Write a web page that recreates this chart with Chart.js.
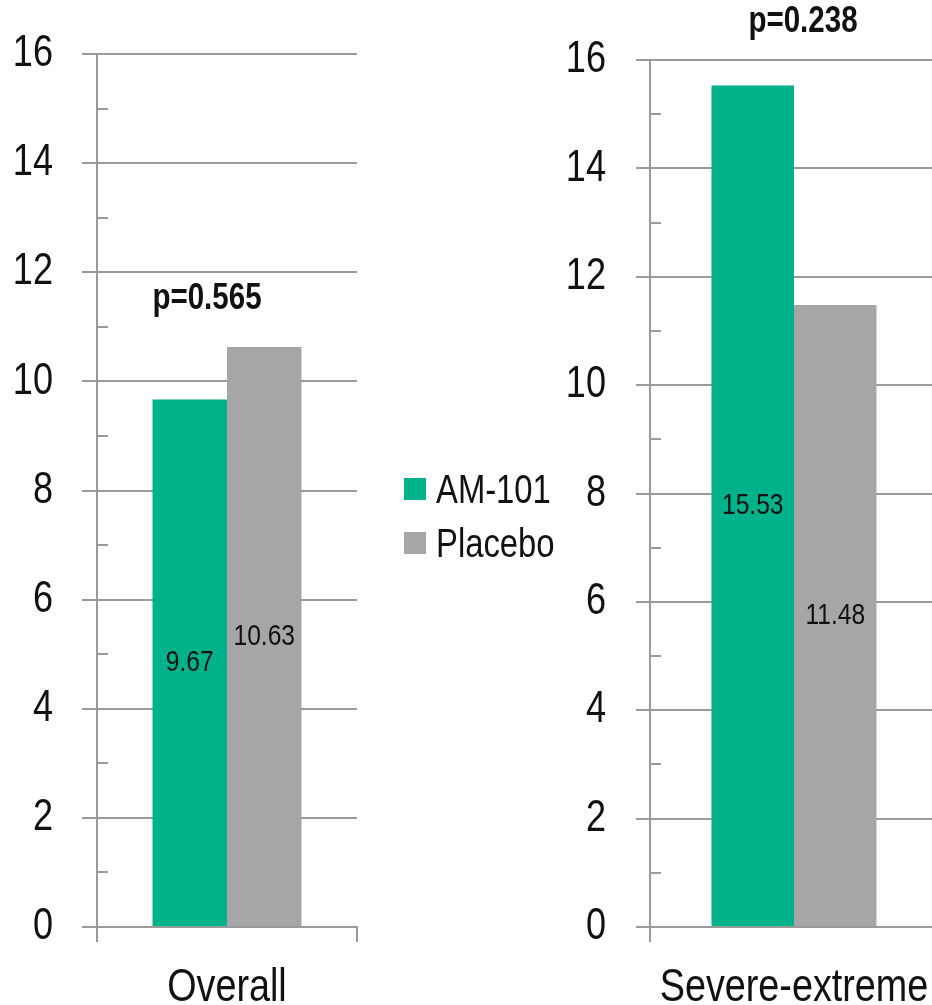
<!DOCTYPE html>
<html>
<head>
<meta charset="utf-8">
<title>AM-101 vs Placebo</title>
<script src="https://cdn.jsdelivr.net/npm/chart.js@4.4.1/dist/chart.umd.min.js"></script>
<style>
  body { margin: 0; width: 932px; height: 1005px; overflow: hidden; background: #fff; position: relative; }
  canvas { position: absolute; top: 0; }
  #leftChart { left: 0; }
  #rightChart { left: 560px; }
  #legend { position: absolute; left: 404px; top: 462px; font-family: 'Liberation Sans', Arial, sans-serif; font-size: 40px; color: #111; }
  .item { display: flex; align-items: center; height: 54px; }
  .swatch { width: 22px; height: 22px; margin-right: 10px; flex: none; }
  .name { display: inline-block; transform: scaleX(0.82); transform-origin: left center; }
</style>
</head>
<body>
<canvas id="leftChart" width="380" height="1005"></canvas>
<canvas id="rightChart" width="380" height="1005"></canvas>
<div id="legend"></div>
<script>
// values
const categories = ['Overall', 'Severe-extreme'];
const seriesNames = ['AM-101', 'Placebo'];
const am101 = [9.67, 15.53];
const placebo = [10.63, 11.48];
const pValues = ['p=0.565', 'p=0.238'];
const yMin = 0, yMax = 16, yStep = 2;
const minorTicks = [1, 3, 5, 7, 9, 11, 13, 15];

const seriesColors = ['#00b28a', '#a6a6a6'];
const lineColor = '#9a9a9a';
const textColor = '#111';
const fontFamily = "'Liberation Sans', Arial, sans-serif";
const narrow = 0.82; // squeeze Liberation Sans into a narrow face

function narrowText(ctx, text, x, y, font, align, baseline) {
  ctx.save();
  ctx.fillStyle = textColor;
  ctx.font = font;
  ctx.textAlign = align;
  ctx.textBaseline = baseline;
  ctx.translate(x, y);
  ctx.scale(narrow, 1);
  ctx.fillText(text, 0, 0);
  ctx.restore();
}

// short inward ticks on the y axis between the labelled ones
const minorTickPlugin = {
  id: 'minorTickPlugin',
  afterDraw(chart) {
    const ctx = chart.ctx;
    const y = chart.scales.y;
    const x0 = chart.chartArea.left;
    ctx.save();
    ctx.strokeStyle = lineColor;
    ctx.lineWidth = 2;
    minorTicks.forEach(v => {
      const py = Math.round(y.getPixelForValue(v));
      ctx.beginPath();
      ctx.moveTo(x0, py);
      ctx.lineTo(x0 + 11, py);
      ctx.stroke();
    });
    ctx.restore();
  }
};

// tick and category labels in the narrow face
const axisLabelPlugin = {
  id: 'axisLabelPlugin',
  afterDraw(chart) {
    const ctx = chart.ctx;
    const x = chart.scales.x, y = chart.scales.y;
    const area = chart.chartArea;
    y.ticks.forEach(t => {
      narrowText(ctx, String(t.value), area.left - 44, y.getPixelForValue(t.value), '44px ' + fontFamily, 'right', 'middle');
    });
    chart.data.labels.forEach((lab, i) => {
      narrowText(ctx, lab, x.getPixelForValue(i), area.bottom + 74, '46px ' + fontFamily, 'center', 'alphabetic');
    });
  }
};

// value text in the middle of each bar
const barValuePlugin = {
  id: 'barValuePlugin',
  afterDatasetsDraw(chart) {
    chart.data.datasets.forEach((ds, i) => {
      chart.getDatasetMeta(i).data.forEach((bar, j) => {
        narrowText(chart.ctx, ds.data[j].toFixed(2), bar.x, (bar.y + bar.base) / 2, '30px ' + fontFamily, 'center', 'middle');
      });
    });
  }
};

// p-value note above the bars
const pValuePlugin = {
  id: 'pValuePlugin',
  afterDraw(chart, args, opts) {
    const x = chart.scales.x.getPixelForValue(0) + opts.dx;
    const y = chart.scales.y.getPixelForValue(opts.at);
    narrowText(chart.ctx, opts.text, x, y, 'bold 36px ' + fontFamily, 'center', 'middle');
  }
};

function makeChart(id, idx, top, axisWidth, tickLen, rightPad, pAt, pDx) {
  return new Chart(document.getElementById(id), {
    type: 'bar',
    data: {
      labels: [categories[idx]],
      datasets: [
        { label: seriesNames[0], data: [am101[idx]], backgroundColor: seriesColors[0] },
        { label: seriesNames[1], data: [placebo[idx]], backgroundColor: seriesColors[1] }
      ]
    },
    options: {
      responsive: false,
      animation: false,
      layout: { padding: { top: top, left: 0, right: rightPad, bottom: 0 } },
      datasets: { bar: { categoryPercentage: 0.573, barPercentage: 1 } },
      plugins: {
        legend: { display: false },
        tooltip: { enabled: false },
        pValuePlugin: { text: pValues[idx], at: pAt, dx: pDx }
      },
      scales: {
        x: {
          grid: { offset: true, drawOnChartArea: false, color: lineColor, lineWidth: 2, tickLength: 15 },
          border: { color: lineColor, width: 2 },
          ticks: { display: false },
          afterFit(s) { s.height = 78; }
        },
        y: {
          min: yMin,
          max: yMax,
          grid: { color: lineColor, lineWidth: 2, tickLength: tickLen },
          border: { color: lineColor, width: 2 },
          ticks: { stepSize: yStep, display: false },
          afterFit(s) { s.width = axisWidth; }
        }
      }
    },
    plugins: [minorTickPlugin, axisLabelPlugin, barValuePlugin, pValuePlugin]
  });
}

makeChart('leftChart', 0, 54, 97, 15, 23, 11.5, -20);
makeChart('rightChart', 1, 60, 90, 14, 2, 16.7, 9);

// legend between the two panels
const legend = document.getElementById('legend');
seriesNames.forEach((name, i) => {
  const row = document.createElement('div');
  row.className = 'item';
  row.innerHTML = '<span class="swatch" style="background:' + seriesColors[i] + '"></span><span class="name">' + name + '</span>';
  legend.appendChild(row);
});
</script>
</body>
</html>
